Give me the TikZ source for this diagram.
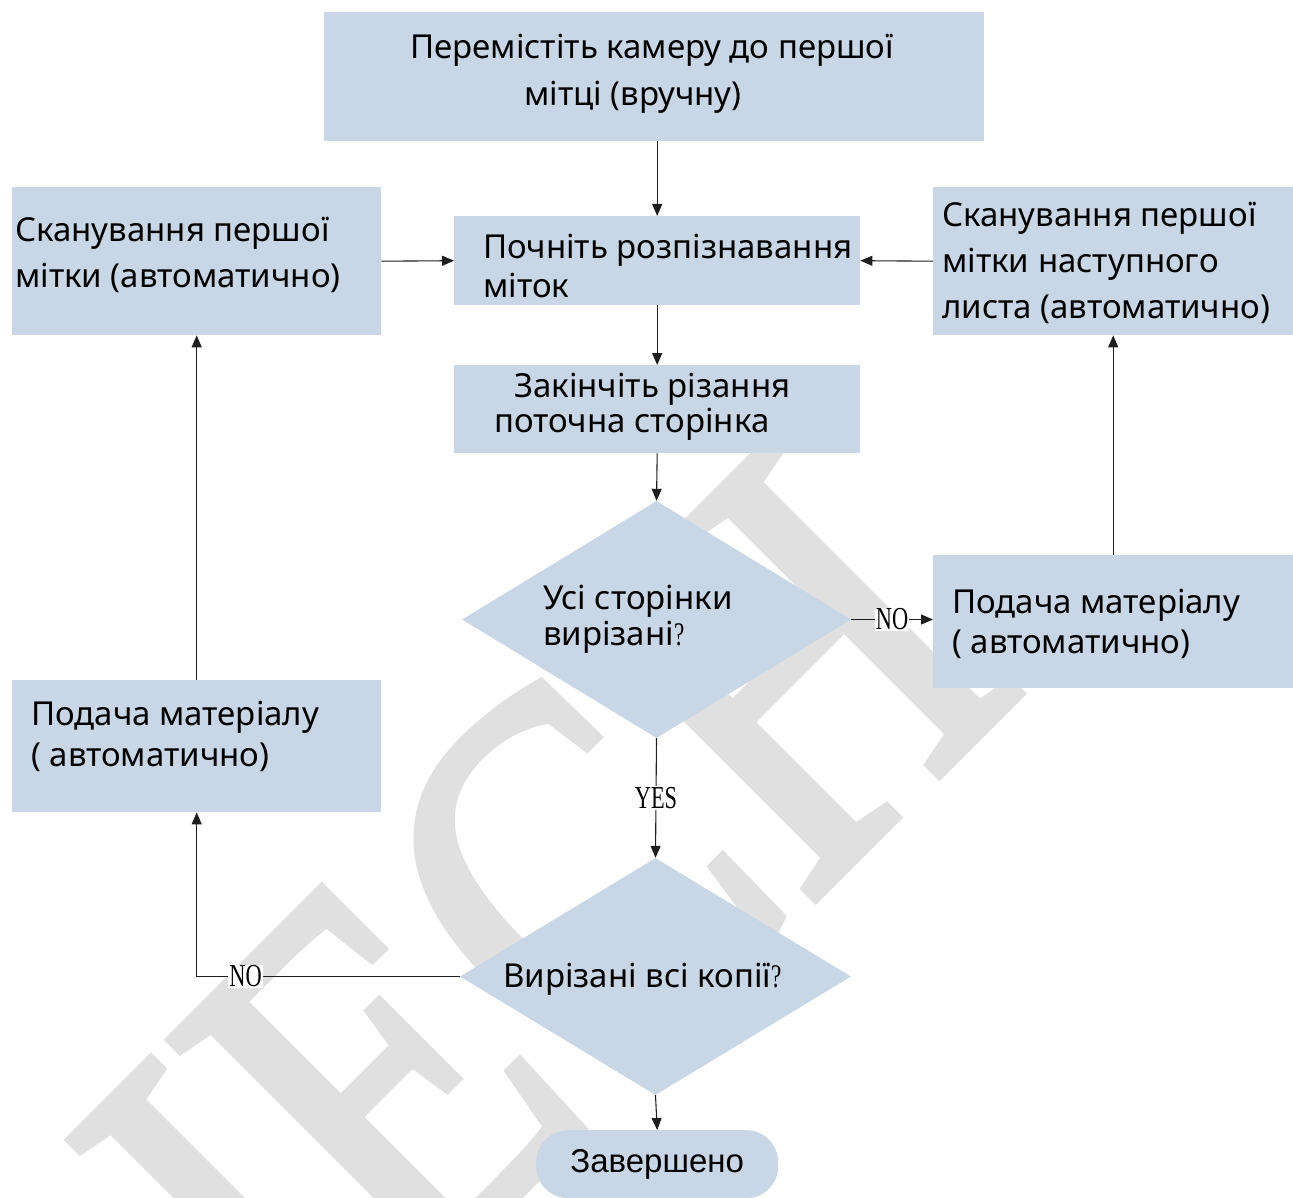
\documentclass[tikz,border=0pt]{standalone}
\usepackage{fontspec}
\setmainfont{Noto Sans}
\newfontfamily\labelfont[FakeStretch=0.7]{Liberation Serif}
\newfontfamily\markfont[FakeStretch=0.8,FakeBold=1.8]{Liberation Serif}
\newfontfamily\endfont{Liberation Sans}
\usetikzlibrary{shapes.geometric,arrows.meta}

\definecolor{boxfill}{RGB}{200,214,230}
\definecolor{wmark}{RGB}{224,224,224}
\definecolor{linecol}{RGB}{30,30,30}

% block of left-aligned lines; first argument is the line pitch
\newcommand{\txtblock}[2]{\fontsize{33}{#1}\selectfont\begin{tabular}[t]{@{}l@{}}#2\end{tabular}}
\newcommand{\serifq}{{\labelfont ?}}

\tikzset{
  box/.style={rectangle, fill=boxfill, draw=none, inner sep=0, anchor=north west},
  decision/.style={diamond, fill=boxfill, draw=none, inner sep=0},
  txt/.style={anchor=base west, inner sep=0},
  arr/.style={draw=linecol, line width=1.1pt, -{Triangle[length=12pt,width=10pt]}},
  lbl/.style={fill=white, inner sep=1pt, font=\labelfont\fontsize{32}{32}\selectfont},
}

\begin{document}
\begin{tikzpicture}[x=1pt,y=-1pt]
\useasboundingbox (0,0) rectangle (1293,1198);
\clip (0,0) rectangle (1293,1198);

% background lettering
\node[anchor=base west, rotate=45, inner sep=0, text=wmark, font=\markfont\fontsize{544}{544}\selectfont] (wm) at (311,1403) {IECH};

% process boxes
\node[box, minimum width=660, minimum height=129] (top) at (324,12) {};
\node[box, minimum width=369, minimum height=148] (scanL) at (12,187) {};
\node[box, minimum width=406, minimum height=89] (start) at (454,216) {};
\node[box, minimum width=360, minimum height=148] (scanR) at (933,187) {};
\node[box, minimum width=406, minimum height=88] (finish) at (454,365) {};
\node[box, minimum width=360, minimum height=133] (feedR) at (933,555) {};
\node[box, minimum width=369, minimum height=132] (feedL) at (12,680) {};

% decisions
\node[decision, minimum width=389, minimum height=237] (d1) at (656.5,619.5) {};
\node[decision, minimum width=391, minimum height=237] (d2) at (655.5,976.5) {};

% terminal
\node[box, rounded corners=32, minimum width=242, minimum height=68, font=\endfont\fontsize{33}{40}\selectfont] (end) at (536,1130) {Завершено};

% texts
\node[txt] (topT) at (410,59) {\txtblock{47}{Перемістіть камеру до першої\\\hspace{114pt}мітці (вручну)}};
\node[txt] (scanLT) at (15,242) {\txtblock{46}{Сканування першої\\мітки (автоматично)}};
\node[txt] (startT) at (483,259) {\txtblock{39}{Почніть розпізнавання\\міток}};
\node[txt] (scanRT) at (942,227) {\txtblock{46}{Сканування першої\\мітки наступного\\листа (автоматично)}};
\node[txt] (finT) at (494,397) {\txtblock{35}{\hspace{20pt}Закінчіть різання\\поточна сторінка}};
\node[txt] (d1T) at (543,609) {\txtblock{36}{Усі сторінки\\вирізані\serifq}};
\node[txt] (feedRT) at (952,613) {\txtblock{40}{Подача матеріалу\\( автоматично)}};
\node[txt] (feedLT) at (31,725) {\txtblock{41}{Подача матеріалу\\( автоматично)}};
\node[txt] (d2T) at (503,987) {\txtblock{36}{Вирізані всі копії\serifq}};

% connectors
\draw[arr] (top.south -| start.north) -- (start.north);
\draw[arr] (scanL.east) -- (start.west);
\draw[arr] (scanR.west) -- (start.east);
\draw[arr] (start.south) -- (finish.north);
\draw[arr] (finish.south) -- (d1.north);
\draw[arr] (d1.east) -- node[lbl] {NO} (d1.east -| feedR.west);
\draw[arr] (feedR.north) -- (scanR.south);
\draw[arr] (d1.south) -- node[lbl] {YES} (d2.north);
\draw[arr] (d2.west) -| node[lbl, pos=0.407] {NO} (feedL.south);
\draw[arr] (feedL.north) -- (scanL.south);
\draw[arr] (d2.south) -- (end.north);
\end{tikzpicture}
\end{document}
